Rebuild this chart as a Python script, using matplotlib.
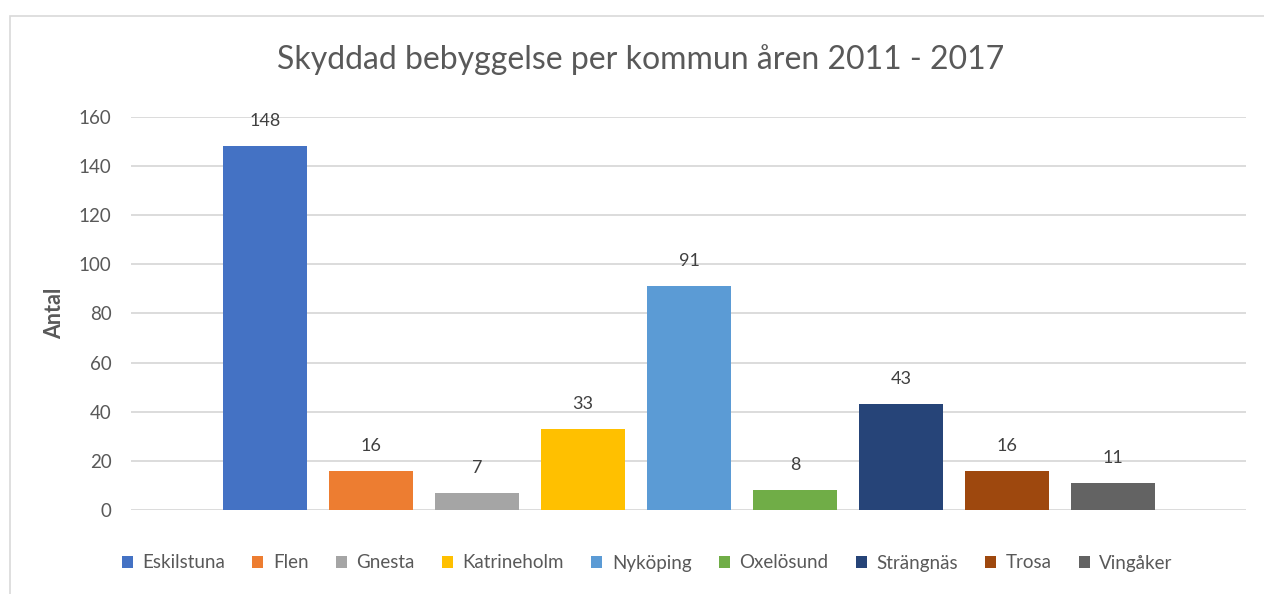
import matplotlib
matplotlib.use("Agg")
import matplotlib.pyplot as plt
from matplotlib.patches import Rectangle

kommuner = ["Eskilstuna", "Flen", "Gnesta", "Katrineholm", "Nyköping",
            "Oxelösund", "Strängnäs", "Trosa", "Vingåker"]
antal = [148, 16, 7, 33, 91, 8, 43, 16, 11]
farger = ["#4472C4", "#ED7D31", "#A5A5A5", "#FFC000", "#5B9BD5",
          "#70AD47", "#264478", "#9E480E", "#636363"]
yticks = [0, 20, 40, 60, 80, 100, 120, 140, 160]

plt.rcParams['font.family'] = ['Lato', 'DejaVu Sans']

fig = plt.figure(figsize=(12.64, 5.94), dpi=100)
ax = fig.add_axes([131 / 1264, 1 - 510 / 594, 1115 / 1264, 393 / 594])

# chart area border (only left/top visible in the crop)
fig.patches.append(Rectangle((10 / 1264, -0.1), 1.2, 1 - 16 / 594 + 0.1,
                             transform=fig.transFigure, fill=False,
                             edgecolor="#d9d9d9", linewidth=1.2))

x = range(len(kommuner))
bars = ax.bar(x, antal, width=0.79, color=farger, label=kommuner, zorder=3)
for xi, v in zip(x, antal):
    ax.text(xi, v + 7, str(v), ha="center", va="bottom", fontsize=13,
            color="#404040")

ax.set_xlim(-1.265, 9.255)
ax.set_ylim(0, 160)
ax.set_yticks(yticks)
ax.set_xticks([])
ax.grid(axis="y", color="#d9d9d9", linewidth=1.3, zorder=0)
for s in ax.spines.values():
    s.set_visible(False)
ax.tick_params(axis="y", length=0, pad=14, labelsize=13.5, labelcolor="#595959")
ax.set_ylabel("Antal", fontsize=15.5, color="#595959", fontweight="bold", labelpad=10)

fig.text(0.507, 1 - 60 / 594, "Skyddad bebyggelse per kommun åren 2011 - 2017",
         ha="center", va="center", fontsize=23, color="#595959")

fig.legend(bars, kommuner, loc="center", bbox_to_anchor=(0.512, 1 - 563 / 594),
           ncol=9, frameon=False, fontsize=13.5, handlelength=0.6,
           handleheight=0.6, handletextpad=0.5, columnspacing=1.45,
           labelcolor="#595959")

fig.savefig("out.png", dpi=100)
